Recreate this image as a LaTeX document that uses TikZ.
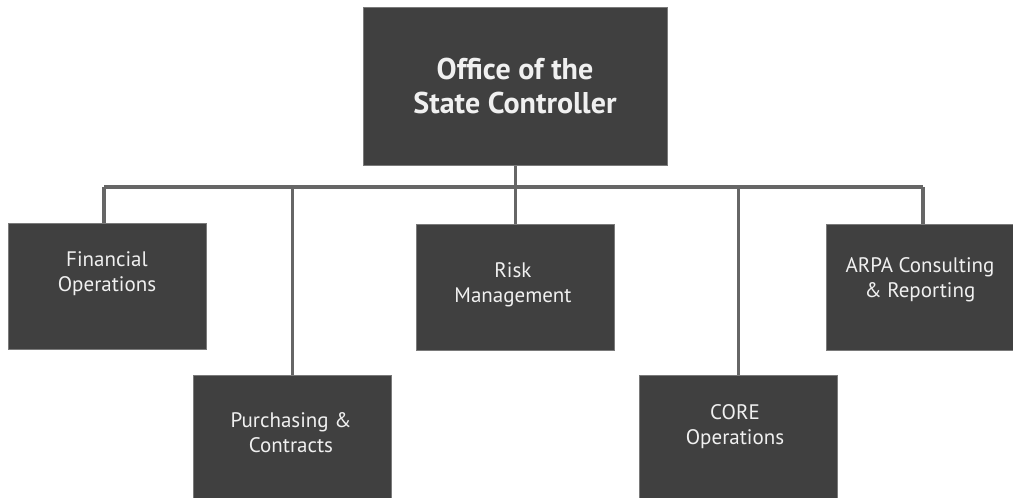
\documentclass[tikz,border=0pt]{standalone}
\usepackage{fontspec}
\setmainfont{PT Sans}
\usetikzlibrary{backgrounds}
\begin{document}
\begin{tikzpicture}[x=1pt,y=-1pt,
  box/.style={draw=boxedge,line width=1pt,fill=boxfill,anchor=north west,inner sep=0pt},
  lbl/.style={text=boxtext,align=center,font=\fontsize{21}{25}\selectfont},
  toplbl/.style={text=boxtext,align=center,font=\bfseries\fontsize{30}{34}\selectfont},
  conn/.style={draw=connline,line width=3.5pt}]
\definecolor{boxfill}{HTML}{404040}
\definecolor{boxedge}{HTML}{7A7A7A}
\definecolor{boxtext}{HTML}{F0F0F0}
\definecolor{connline}{HTML}{666666}
\useasboundingbox (0,0) rectangle (1013,498);
% boxes
\node[box,minimum width=304pt,minimum height=158pt] (top) at (363,7) {};
\node[box,minimum width=198pt,minimum height=126pt] (fo) at (8,223) {};
\node[box,minimum width=198pt,minimum height=127pt] (pc) at (193,375) {};
\node[box,minimum width=198pt,minimum height=126pt] (rm) at (416,224) {};
\node[box,minimum width=198pt,minimum height=127pt] (co) at (639,375) {};
\node[box,minimum width=187pt,minimum height=126pt] (ar) at (826,224) {};
\coordinate (bus) at (515,187);
\coordinate (busL) at (104,187);
\coordinate (busR) at (923,187);
% connectors
\begin{scope}[on background layer]
\draw[conn] (top.south) -- (top.south |- bus);
\draw[conn] (busL) -- (busR);
\draw[conn] (busL) -- (busL |- fo.north);
\draw[conn] (pc.north |- bus) -- (pc.north);
\draw[conn] (rm.north |- bus) -- (rm.north);
\draw[conn] (co.north |- bus) -- (co.north);
\draw[conn] (busR) -- (busR |- ar.north);
\end{scope}
% labels
\node[toplbl] (topT) at (515,86) {Office of the\\State Controller};
\node[lbl] (foT) at (107,274) {Financial\\Operations};
\node[lbl] (pcT) at (291,433) {Purchasing \&\\Contracts};
\node[lbl] (rmT) at (513,285) {Risk\\Management};
\node[lbl] (coT) at (735,427) {CORE\\Operations};
\node[lbl] (arT) at (920,280) {ARPA Consulting\\\& Reporting};
\end{tikzpicture}
\end{document}
